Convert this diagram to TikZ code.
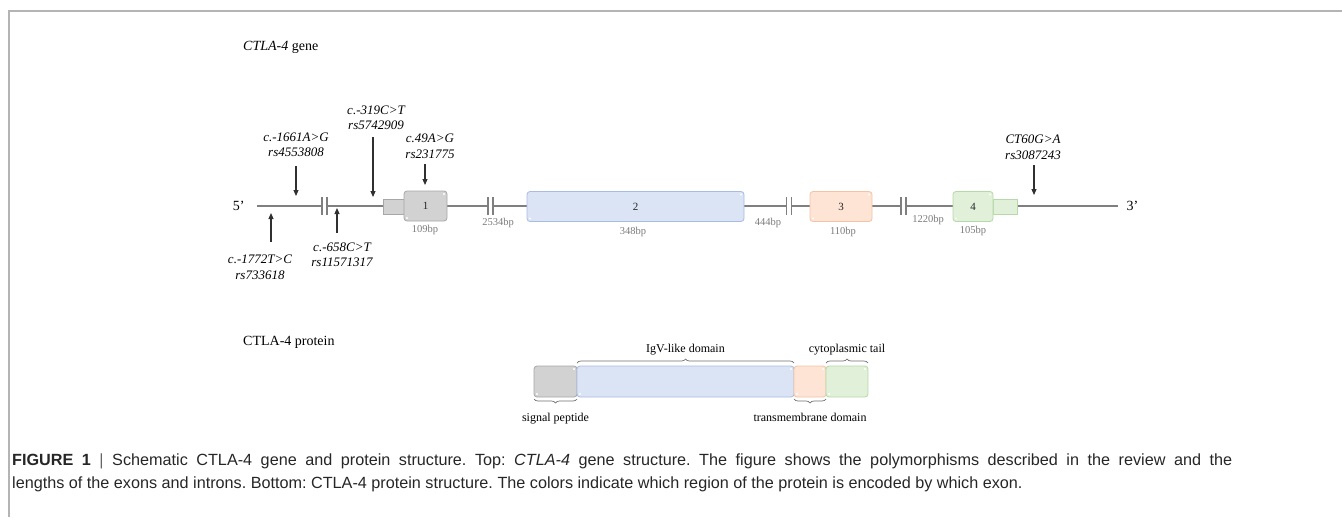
\documentclass[tikz,border=0pt]{standalone}
\usepackage{fontspec}
\setmainfont{Liberation Serif}
\newfontfamily\capfont{Liberation Sans}
\usetikzlibrary{arrows.meta, positioning, decorations.pathreplacing}

\definecolor{linegray}{HTML}{7F7F7F}
\definecolor{arrowgray}{HTML}{303030}
\definecolor{bpgray}{HTML}{7A7A7A}
\definecolor{framegray}{HTML}{B4B4B4}
\definecolor{bracegray}{HTML}{6E6E6E}
\definecolor{sigfill}{HTML}{D3D2D3}
\definecolor{sigdraw}{HTML}{A8A7A8}
\definecolor{igvfill}{HTML}{DAE4F5}
\definecolor{igvdraw}{HTML}{A9BCE0}
\definecolor{tmfill}{HTML}{FDE4D5}
\definecolor{tmdraw}{HTML}{F3C3A5}
\definecolor{cytfill}{HTML}{E0F0D9}
\definecolor{cytdraw}{HTML}{B6D9A9}

\tikzset{
  exon/.style = {draw, rounded corners=3pt, line width=0.8pt, minimum height=30pt,
    inner sep=0pt, outer sep=0pt, text=black!85, font=\fontsize{11}{13}\selectfont},
  utr/.style = {draw, line width=0.8pt, minimum height=15pt, inner sep=0pt},
  snp/.style = {-{Triangle[length=6pt, width=5pt]}, line width=1.1pt, draw=arrowgray},
  snplabel/.style = {font=\fontsize{13}{15.5}\selectfont\itshape, align=center, inner sep=0pt},
  bplabel/.style = {font=\fontsize{10.5}{12}\selectfont, text=bpgray, inner sep=0pt},
  cut/.style = {draw=linegray, line width=1.1pt},
  protbox/.style = {draw, rounded corners=3pt, line width=0.8pt, minimum height=31pt,
    inner sep=0pt, outer sep=0pt},
  brace/.style = {decorate, decoration={brace, amplitude=4pt}, draw=bracegray, line width=0.7pt},
  protlabel/.style = {font=\fontsize{12}{14}\selectfont, inner sep=0pt},
  headlabel/.style = {font=\fontsize{14}{16}\selectfont, inner sep=0pt, anchor=west},
  captext/.style = {font=\capfont\fontsize{16.2}{23}\selectfont\frenchspacing, text=black!85, inner sep=0pt,
    anchor=north west, text width=1220pt, align=justify}
}

\begin{document}
\begin{tikzpicture}[x=1pt, y=-1pt]
  \useasboundingbox (0,0) rectangle (1342,517);

  % Frame
  \draw[framegray, line width=1.2pt] (9,517) -- (9,11) -- (1342,11);

  %% Gene

  \node[headlabel] (genetitle) at (243,47) {\textit{CTLA-4} gene};

  % Gene line with cuts
  \coordinate (five) at (257,206);
  \coordinate (three) at (1118,206);
  \draw[linegray, line width=1.3pt] (five) -- (three);
  \foreach \bx in {324.5, 490.5, 789, 903.5} {
    \fill[white] (\bx-2.5,202) rectangle (\bx+2.5,210);
    \draw[cut] (\bx-2.5,197) -- ++(0,18);
    \draw[cut] (\bx+2.5,197) -- ++(0,18);
  }
  \node[font=\fontsize{14}{16}\selectfont, left=9pt of five] (fivelab) {5’};
  \node[font=\fontsize{14}{16}\selectfont, right=5pt of three] (threelab) {3’};

  % UTRs
  \node[utr, fill=sigfill, draw=sigdraw, minimum width=22pt] (utrfive) at (394,206.5) {};
  \node[utr, fill=cytfill, draw=cytdraw, minimum width=24pt] (utrthree) at (1005,206.5) {};

  % Exons
  \node[exon, fill=sigfill, draw=sigdraw, minimum width=43pt] (exA) at (425.5,206) {1};
  \node[exon, fill=igvfill, draw=igvdraw, minimum width=217pt] (exB) at (635.5,206.5) {2};
  \node[exon, fill=tmfill, draw=tmdraw, minimum width=62pt] (exC) at (841,206.5) {3};
  \node[exon, fill=cytfill, draw=cytdraw, minimum width=40pt] (exD) at (973,206.5) {4};

  % Lengths
  \node[bplabel] (bpA) at (425,230) {109bp};
  \node[bplabel] (bpAB) at (498,223) {2534bp};
  \node[bplabel] (bpB) at (633,232) {348bp};
  \node[bplabel] (bpBC) at (768,223) {444bp};
  \node[bplabel] (bpC) at (843,232) {110bp};
  \node[bplabel] (bpCD) at (928,220) {1220bp};
  \node[bplabel] (bpD) at (973,231) {105bp};

  % Polymorphisms
  \node[snplabel] (snpA) at (296,145) {c.-1661A>G\\rs4553808};
  \node[snplabel] (snpB) at (376,118) {c.-319C>T\\rs5742909};
  \node[snplabel] (snpC) at (430,146.5) {c.49A>G\\rs231775};
  \node[snplabel] (snpD) at (1033,147) {CT60G>A\\rs3087243};
  \node[snplabel] (snpE) at (260,267.5) {c.-1772T>C\\rs733618};
  \node[snplabel] (snpF) at (342,254.5) {c.-658C>T\\rs11571317};

  \coordinate (tipA) at (296,196);
  \coordinate (tipB) at (373,197);
  \coordinate (tipC) at (425,185);
  \coordinate (tipD) at (1034,195);
  \coordinate (tipE) at (271,213);
  \coordinate (tipF) at (337,208);

  \draw[snp, shorten <=9pt] (snpA.south -| tipA) -- (tipA);
  \draw[snp, shorten <=7pt] (snpB.south -| tipB) -- (tipB);
  \draw[snp, shorten <=5pt] (snpC.south -| tipC) -- (tipC);
  \draw[snp, shorten <=6pt] (snpD.south -| tipD) -- (tipD);
  \draw[snp, shorten <=13pt] (snpE.north -| tipE) -- (tipE);
  \draw[snp, shorten <=9pt] (snpF.north -| tipF) -- (tipF);

  %% Protein

  \node[headlabel] (prottitle) at (243,342) {CTLA-4 protein};

  \node[protbox, fill=sigfill, draw=sigdraw, minimum width=43pt] (sig) at (555.5,381.5) {};
  \node[protbox, fill=igvfill, draw=igvdraw, minimum width=217pt, right=0pt of sig] (igv) {};
  \node[protbox, fill=tmfill, draw=tmdraw, minimum width=32pt, right=0pt of igv] (tm) {};
  \node[protbox, fill=cytfill, draw=cytdraw, minimum width=42pt, right=0pt of tm] (cyt) {};

  % Corner highlights
  \foreach \n in {exA, exB, exC, exD, sig, igv, tm, cyt} {
    \fill[white] ([xshift=-3pt, yshift=-3pt]\n.north east) circle (1.1pt);
    \fill[white] ([xshift=3pt, yshift=3pt]\n.south west) circle (1.1pt);
  }

  % Braces
  \draw[brace] ([yshift=3pt]igv.north west) -- ([yshift=3pt]igv.north east)
    node[protlabel, midway, above=8pt] (igvlab) {IgV-like domain};
  \draw[brace] ([yshift=3pt]cyt.north west) -- ([yshift=3pt]cyt.north east)
    node[protlabel, midway, above=8pt] (cytlab) {cytoplasmic tail};
  \draw[brace] ([yshift=-2pt]sig.south east) -- ([yshift=-2pt]sig.south west)
    node[protlabel, midway, below=14pt] (siglab) {signal peptide};
  \draw[brace] ([yshift=-2pt]tm.south east) -- ([yshift=-2pt]tm.south west)
    node[protlabel, midway, below=14pt] (tmlab) {transmembrane domain};

  %% Caption
  \node[captext] (caption) at (12,454) {\textbf{FIGURE 1} {\color{black!60}|} Schematic CTLA-4 gene and protein structure. Top: \textit{CTLA-4} gene structure. The figure shows the polymorphisms described in the review and the\linebreak
    lengths of the exons and introns. Bottom: CTLA-4 protein structure. The colors indicate which region of the protein is encoded by which exon.};

\end{tikzpicture}
\end{document}
